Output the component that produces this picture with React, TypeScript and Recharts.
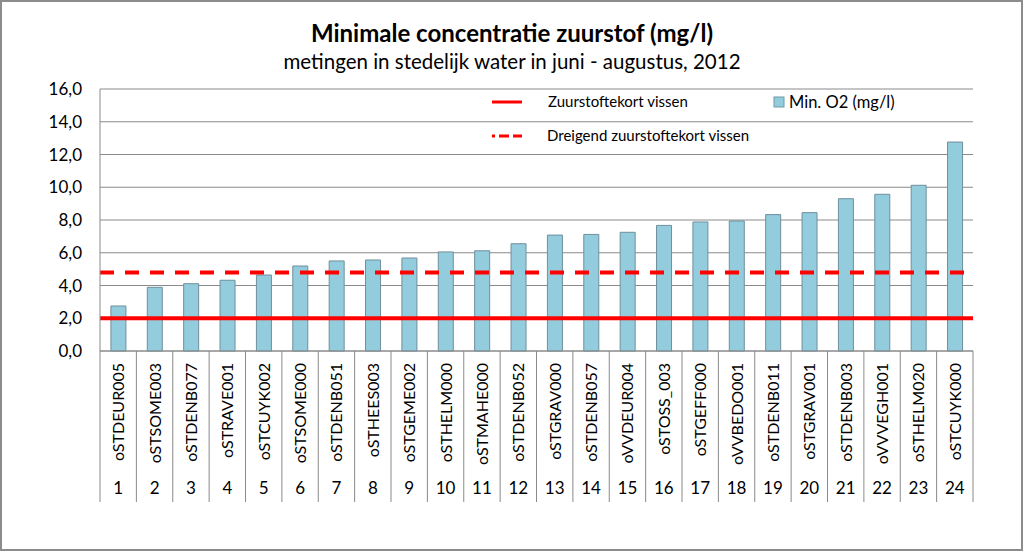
import React from 'react';
import { BarChart, Bar, XAxis, YAxis, CartesianGrid, ReferenceLine, Legend } from 'recharts';

const stations = [
  'oSTDEUR005', 'oSTSOME003', 'oSTDENB077', 'oSTRAVE001', 'oSTCUYK002', 'oSTSOME000',
  'oSTDENB051', 'oSTHEES003', 'oSTGEME002', 'oSTHELM000', 'oSTMAHE000', 'oSTDENB052',
  'oSTGRAV000', 'oSTDENB057', 'oVVDEUR004', 'oSTOSS_003', 'oSTGEFF000', 'oVVBEDO001',
  'oSTDENB011', 'oSTGRAV001', 'oSTDENB003', 'oVVVEGH001', 'oSTHELM020', 'oSTCUYK000',
];
const rank = ['1', '2', '3', '4', '5', '6', '7', '8', '9', '10', '11', '12',
  '13', '14', '15', '16', '17', '18', '19', '20', '21', '22', '23', '24'];
const minO2 = [2.75, 3.89, 4.11, 4.32, 4.64, 5.19, 5.5, 5.56, 5.68, 6.05, 6.12, 6.55,
  7.08, 7.12, 7.25, 7.67, 7.88, 7.94, 8.33, 8.45, 9.3, 9.57, 10.12, 12.76];
const yTicks = [0, 2, 4, 6, 8, 10, 12, 14, 16];
const shortage = 2;
const threatened = 4.8;

const title = 'Minimale concentratie zuurstof (mg/l)';
const subtitle = 'metingen in stedelijk water in juni - augustus, 2012';
const legendShortage = 'Zuurstoftekort vissen';
const legendThreat = 'Dreigend zuurstoftekort vissen';
const legendBar = 'Min. O2 (mg/l)';

const data = stations.map((s, i) => ({ code: s, nr: rank[i], value: minO2[i] }));

const FONT = 'Lato, "Open Sans", sans-serif';
const GRID = '#8a8a8a';
const RED = '#ff0000';
const BAR = '#93cddd';

const W = 1024;
const H = 552;
const M = { top: 89, right: 51, bottom: 50, left: 0 };
const Y_W = 100;
const X_H = 151;
const HALF = (W - Y_W - M.right) / stations.length / 2;

const CategoryTick = (props: any) => {
  const { x, y, payload, index } = props;
  return (
    <g>
      <line x1={x - HALF} y1={y} x2={x - HALF} y2={y + X_H} stroke={GRID} strokeWidth={1} />
      {index === stations.length - 1 && (
        <line x1={x + HALF} y1={y} x2={x + HALF} y2={y + X_H} stroke={GRID} strokeWidth={1} />
      )}
      <text
        x={x + 6}
        y={y + 12}
        transform={`rotate(-90 ${x + 6} ${y + 12})`}
        textAnchor="end"
        fontFamily={FONT}
        fontSize={16}
        fill="#000"
      >
        {payload.value}
      </text>
      <text x={x} y={y + 143} textAnchor="middle" fontFamily={FONT} fontSize={17} fill="#000">
        {rank[index]}
      </text>
    </g>
  );
};

const LegendBox = () => (
  <svg width={500} height={70} style={{ display: 'block' }}>
    <line x1={52} y1={17} x2={82} y2={17} stroke={RED} strokeWidth={3} />
    <text x={108} y={22} fontFamily={FONT} fontSize={15} fill="#000">{legendShortage}</text>
    <rect x={334} y={12} width={10} height={10} fill={BAR} stroke="#6f9aa8" strokeWidth={1} />
    <text x={349} y={23} fontFamily={FONT} fontSize={16.5} fill="#000">{legendBar}</text>
    <line x1={52} y1={51} x2={82} y2={51} stroke={RED} strokeWidth={3} strokeDasharray="3 4 10 4 10 4" />
    <text x={107} y={56} fontFamily={FONT} fontSize={15} fill="#000">{legendThreat}</text>
  </svg>
);

export default function App() {
  return (
    <div style={{ position: 'absolute', left: 0, top: 0, width: W, height: H, background: '#fff' }}>
      <div
        style={{
          position: 'absolute', left: 0, top: 0, width: 1023, height: 551,
          border: '2px solid #8c8c8c', boxSizing: 'border-box',
          pointerEvents: 'none', zIndex: 2,
        }}
      />
      <div
        style={{
          position: 'absolute', left: 0, top: 20, width: W, textAlign: 'center',
          fontFamily: FONT, fontWeight: 700, fontSize: 24, color: '#000', lineHeight: '26px',
        }}
      >
        {title}
      </div>
      <div
        style={{
          position: 'absolute', left: 0, top: 50, width: W, textAlign: 'center',
          fontFamily: FONT, fontSize: 20.5, color: '#000', lineHeight: '22px',
        }}
      >
        {subtitle}
      </div>
      <BarChart width={W} height={H} data={data} margin={M} barCategoryGap="30%">
        <CartesianGrid horizontal vertical={false} stroke={GRID} strokeWidth={1} />
        <XAxis
          dataKey="code"
          interval={0}
          height={X_H}
          tickLine={false}
          tickSize={0}
          tickMargin={0}
          axisLine={{ stroke: GRID }}
          tick={<CategoryTick />}
        />
        <YAxis
          width={Y_W}
          domain={[0, 16]}
          ticks={yTicks}
          tickLine={false}
          tickSize={0}
          tickMargin={18}
          axisLine={{ stroke: GRID }}
          tick={{ fontFamily: FONT, fontSize: 17, fill: '#000' }}
          tickFormatter={(v: number) => v.toFixed(1).replace('.', ',')}
        />
        <Legend
          layout="vertical"
          align="center"
          verticalAlign="middle"
          wrapperStyle={{ position: 'absolute', left: 440, top: 85, width: 500, height: 70 }}
          content={<LegendBox />}
        />
        <Bar dataKey="value" fill={BAR} stroke="#6f8f9c" strokeWidth={1} isAnimationActive={false} />
        <ReferenceLine y={shortage} stroke={RED} strokeWidth={4} />
        <ReferenceLine y={threatened} stroke={RED} strokeWidth={4} strokeDasharray="14 11" />
      </BarChart>
    </div>
  );
}
